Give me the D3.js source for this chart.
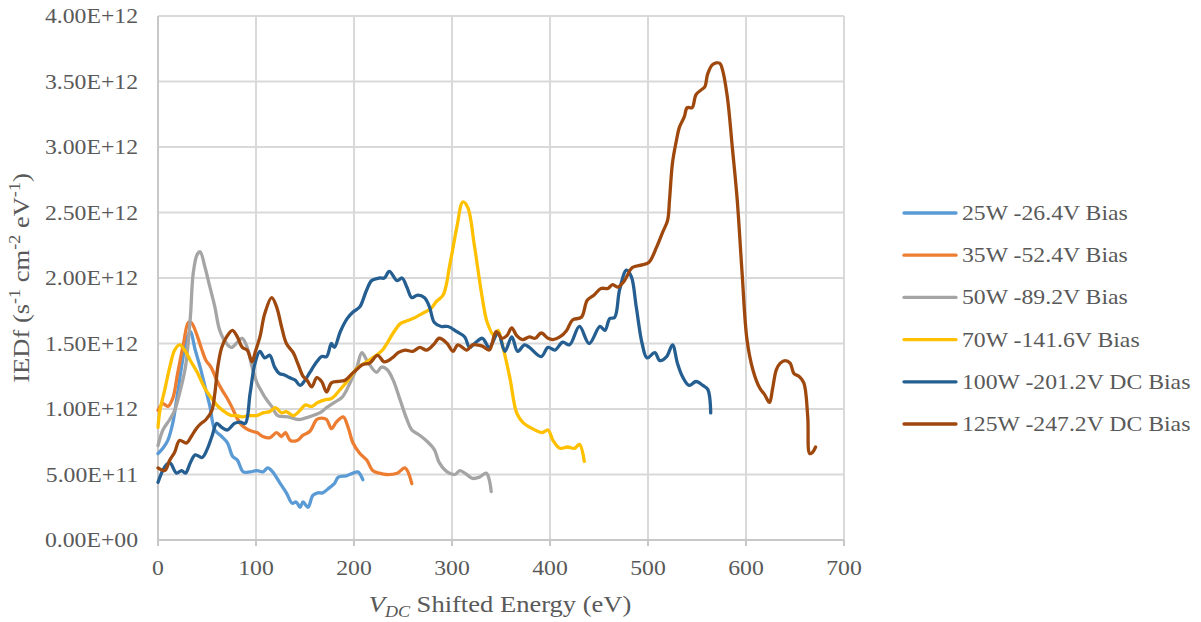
<!DOCTYPE html>
<html>
<head>
<meta charset="utf-8">
<script src="https://cdn.jsdelivr.net/npm/d3@7"></script>
<style>
  html, body { margin: 0; padding: 0; background: #fff; }
  svg { display: block; }
  text { font-family: "Liberation Serif", "Times New Roman", serif; fill: #595959; }
</style>
</head>
<body>
<svg id="chart" width="1201" height="622"></svg>
<script>
// Ion energy distribution functions, values in units of 1e12 s^-1 cm^-2 eV^-1
const seriesNames = [
  "25W -26.4V Bias",
  "35W -52.4V Bias",
  "50W -89.2V Bias",
  "70W -141.6V Bias",
  "100W -201.2V DC Bias",
  "125W -247.2V DC Bias"
];
const seriesColors = ["#5B9BD5", "#ED7D31", "#A5A5A5", "#FFC000", "#255E91", "#9E480E"];

const iedf25W = [[0,.66],[5,.70],[10,.76],[15,.89],[19,1.07],[24,1.32],[29,1.53],[33,1.59],[38,1.45],[43,1.32],[48,1.17],[53,1.02],[58,.84],[65,.79],[71,.74],[76,.64],[81,.61],[87,.52],[94,.52],[101,.53],[107,.52],[112,.55],[117,.52],[124,.44],[131,.36],[137,.28],[141,.29],[145,.25],[148,.29],[153,.25],[158,.34],[163,.36],[168,.36],[175,.40],[180,.43],[184,.48],[192,.49],[199,.51],[204,.52],[209,.46]];

const iedf35W = [[0,.99],[5,1.04],[10,1.02],[15,1.08],[20,1.27],[26,1.50],[31,1.66],[34,1.66],[39,1.58],[44,1.47],[49,1.37],[54,1.32],[60,1.22],[65,1.15],[70,1.09],[75,1.02],[80,.94],[85,.88],[90,.85],[96,.83],[101,.82],[107,.79],[114,.78],[121,.82],[126,.79],[130,.82],[135,.76],[142,.76],[148,.80],[155,.83],[162,.92],[167,.93],[172,.92],[177,.85],[182,.90],[189,.94],[194,.86],[199,.74],[206,.66],[213,.61],[219,.53],[226,.51],[233,.50],[244,.51],[252,.55],[259,.43]];

const iedf50W = [[0,.72],[5,.84],[12,.92],[17,.99],[22,1.12],[28,1.32],[33,1.70],[36,2.04],[40,2.18],[43,2.20],[48,2.08],[53,1.93],[58,1.78],[63,1.60],[70,1.50],[75,1.47],[81,1.51],[86,1.54],[91,1.47],[96,1.32],[101,1.20],[106,1.13],[109,1.09],[116,1.02],[122,.95],[133,.94],[143,.92],[150,.93],[158,.95],[165,.97],[172,1.01],[180,1.05],[188,1.09],[196,1.20],[203,1.32],[208,1.43],[214,1.36],[223,1.28],[228,1.32],[234,1.30],[240,1.22],[247,1.07],[254,.92],[259,.84],[267,.80],[275,.75],[282,.69],[287,.59],[295,.52],[303,.50],[308,.53],[315,.50],[321,.47],[328,.48],[335,.51],[338,.46],[340,.37]];

const iedf70W = [[0,.86],[2,.99],[7,1.15],[12,1.32],[17,1.45],[22,1.49],[28,1.44],[33,1.37],[40,1.28],[45,1.20],[50,1.13],[55,1.08],[60,1.03],[66,.99],[75,.95],[80,.95],[86,.94],[92,.95],[101,.95],[107,.97],[114,.98],[120,1.01],[126,.97],[131,.98],[138,.95],[145,.99],[150,1.03],[157,1.02],[163,1.05],[170,1.07],[177,1.08],[186,1.15],[194,1.22],[203,1.31],[211,1.35],[219,1.39],[229,1.45],[240,1.58],[247,1.65],[253,1.67],[260,1.69],[270,1.73],[279,1.77],[284,1.82],[291,1.87],[298,2.11],[305,2.39],[311,2.58],[316,2.54],[323,2.24],[330,1.89],[336,1.66],[343,1.56],[347,1.60],[352,1.47],[359,1.24],[366,.97],[372,.90],[382,.85],[392,.82],[398,.84],[403,.76],[410,.70],[418,.71],[425,.70],[430,.73],[435,.60]];

const iedf100W = [[0,.44],[7,.56],[12,.59],[19,.51],[24,.53],[28,.51],[33,.59],[38,.65],[45,.63],[50,.69],[55,.79],[60,.89],[65,.86],[71,.84],[78,.89],[84,.90],[89,.89],[94,1.12],[99,1.35],[104,1.44],[109,1.39],[114,1.41],[119,1.32],[124,1.27],[129,1.26],[134,1.24],[140,1.22],[145,1.18],[150,1.22],[155,1.28],[162,1.36],[167,1.40],[172,1.40],[177,1.50],[180,1.47],[186,1.59],[193,1.69],[199,1.74],[206,1.78],[209,1.83],[213,1.91],[218,1.98],[226,2.00],[231,2.00],[236,2.05],[244,1.98],[249,2.00],[254,1.93],[259,1.85],[265,1.87],[272,1.85],[277,1.78],[282,1.66],[289,1.63],[296,1.63],[305,1.59],[313,1.55],[318,1.47],[323,1.50],[331,1.54],[338,1.47],[347,1.58],[354,1.44],[361,1.55],[367,1.44],[374,1.49],[379,1.47],[391,1.40],[398,1.47],[405,1.45],[413,1.51],[420,1.49],[430,1.63],[440,1.50],[451,1.63],[456,1.60],[461,1.69],[466,1.70],[471,1.91],[478,2.06],[483,2.01],[488,1.78],[494,1.50],[499,1.39],[507,1.43],[512,1.37],[519,1.40],[525,1.49],[530,1.35],[535,1.25],[542,1.18],[549,1.21],[556,1.18],[561,1.15],[564,.97]];

const iedf125W = [[0,.55],[7,.53],[12,.61],[17,.67],[22,.76],[29,.74],[34,.79],[39,.85],[44,.89],[49,.92],[55,.99],[58,1.12],[61,1.32],[65,1.47],[70,1.55],[76,1.60],[81,1.55],[86,1.47],[91,1.45],[96,1.36],[99,1.43],[104,1.55],[109,1.73],[116,1.85],[121,1.78],[126,1.63],[131,1.50],[138,1.43],[143,1.34],[148,1.25],[152,1.22],[157,1.17],[162,1.24],[167,1.21],[172,1.13],[177,1.20],[184,1.21],[191,1.22],[198,1.27],[204,1.31],[209,1.34],[216,1.35],[224,1.41],[231,1.36],[239,1.39],[245,1.43],[252,1.45],[260,1.44],[267,1.47],[274,1.45],[281,1.49],[287,1.54],[295,1.50],[301,1.44],[306,1.49],[315,1.45],[321,1.49],[325,1.49],[331,1.48],[338,1.45],[345,1.59],[351,1.54],[356,1.56],[361,1.62],[366,1.56],[372,1.53],[379,1.55],[385,1.54],[391,1.58],[398,1.54],[403,1.53],[410,1.55],[417,1.60],[423,1.68],[432,1.70],[438,1.83],[445,1.87],[452,1.92],[459,1.92],[464,1.95],[469,1.93],[476,1.98],[484,2.08],[494,2.10],[501,2.12],[509,2.24],[515,2.35],[520,2.44],[522,2.60],[525,2.88],[529,3.05],[532,3.15],[537,3.23],[540,3.30],[545,3.30],[549,3.40],[555,3.44],[558,3.46],[561,3.56],[566,3.63],[573,3.64],[576,3.59],[581,3.38],[586,3.00],[591,2.60],[596,2.04],[601,1.53],[607,1.30],[614,1.16],[619,1.11],[624,1.05],[627,1.15],[631,1.30],[635,1.35],[640,1.37],[645,1.35],[649,1.27],[654,1.25],[659,1.20],[663,.94],[665,.66],[668,.67],[671,.71]];

const seriesData = [iedf25W, iedf35W, iedf50W, iedf70W, iedf100W, iedf125W];
const UNIT = 1e12;

const xTicks = [0, 100, 200, 300, 400, 500, 600, 700];
const yTicks = [0, 0.5e12, 1e12, 1.5e12, 2e12, 2.5e12, 3e12, 3.5e12, 4e12];

// Layout
const plot = { left: 158, right: 844, top: 16, bottom: 540 };
const STRETCH = 1.13;   // serif text is set slightly wide
const FONT = 21;
const TITLE_FONT = 23.5;
const SUP_FONT = 16;

const svg = d3.select("#chart");
const x = d3.scaleLinear().domain([0, 700]).range([plot.left, plot.right]);
const y = d3.scaleLinear().domain([0, 4e12]).range([plot.bottom, plot.top]);

const sciFmt = v => d3.format(".2e")(v).toUpperCase().replace(/E([+-])(\d)$/, "E$10$2");

// Wide text helper
function label(parent, px, py, str, anchor, extra, size) {
  const g = parent.append("g").attr("transform", `translate(${px},${py})${extra || ""} scale(${STRETCH},1)`);
  const t = g.append("text").attr("font-size", size || FONT).attr("text-anchor", anchor);
  if (str !== null) t.text(str);
  return t;
}

// Gridlines
const grid = svg.append("g");
grid.selectAll("line.h").data(yTicks.filter(d => d > 0)).join("line")
  .attr("x1", plot.left).attr("x2", plot.right)
  .attr("y1", d => y(d)).attr("y2", d => y(d))
  .attr("stroke", "#D9D9D9").attr("stroke-width", 2);
grid.selectAll("line.v").data(xTicks.filter(d => d > 0)).join("line")
  .attr("x1", d => x(d)).attr("x2", d => x(d))
  .attr("y1", plot.top).attr("y2", plot.bottom)
  .attr("stroke", "#D9D9D9").attr("stroke-width", 2);

// Axis lines and x tick marks
grid.append("line").attr("x1", plot.left).attr("x2", plot.left)
  .attr("y1", plot.top).attr("y2", plot.bottom)
  .attr("stroke", "#C8C8C8").attr("stroke-width", 2);
grid.append("line").attr("x1", plot.left).attr("x2", plot.right)
  .attr("y1", plot.bottom).attr("y2", plot.bottom)
  .attr("stroke", "#C8C8C8").attr("stroke-width", 2);
grid.selectAll("line.tk").data(xTicks).join("line")
  .attr("x1", d => x(d)).attr("x2", d => x(d))
  .attr("y1", plot.bottom).attr("y2", plot.bottom + 6)
  .attr("stroke", "#C8C8C8").attr("stroke-width", 2);

// Tick labels
const labels = svg.append("g");
yTicks.forEach(v => label(labels, 138, y(v) + 7, sciFmt(v), "end"));
xTicks.forEach(v => label(labels, x(v), 575, String(v), "middle"));

// Axis titles
const yt = label(svg, 29, 278, null, "middle", " rotate(-90)", TITLE_FONT);
yt.append("tspan").text("IEDf (s");
yt.append("tspan").attr("dy", -9).attr("font-size", SUP_FONT).text("-1");
yt.append("tspan").attr("dy", 9).text(" cm");
yt.append("tspan").attr("dy", -9).attr("font-size", SUP_FONT).text("-2");
yt.append("tspan").attr("dy", 9).text(" eV");
yt.append("tspan").attr("dy", -9).attr("font-size", SUP_FONT).text("-1");
yt.append("tspan").attr("dy", 9).text(")");

const xt = label(svg, 500, 612, null, "middle", "", TITLE_FONT);
xt.append("tspan").attr("font-style", "italic").text("V");
xt.append("tspan").attr("font-style", "italic").attr("font-size", SUP_FONT).attr("dy", 5).text("DC");
xt.append("tspan").attr("dy", -5).text(" Shifted Energy (eV)");

// Series lines
const line = d3.line()
  .x(d => x(d[0]))
  .y(d => y(d[1] * UNIT))
  .curve(d3.curveCatmullRom.alpha(0.5));

svg.append("g").selectAll("path").data(seriesData).join("path")
  .attr("d", d => line(d))
  .attr("fill", "none")
  .attr("stroke", (d, i) => seriesColors[i])
  .attr("stroke-width", 3.3)
  .attr("stroke-linejoin", "round")
  .attr("stroke-linecap", "round");

// Legend
const legend = svg.append("g");
seriesNames.forEach((name, i) => {
  const ly = 213 + i * 42.2;
  legend.append("line").attr("x1", 904).attr("x2", 956).attr("y1", ly).attr("y2", ly)
    .attr("stroke", seriesColors[i]).attr("stroke-width", 3.3).attr("stroke-linecap", "round");
  label(legend, 962, ly + 7, name, "start");
});
</script>
</body>
</html>
